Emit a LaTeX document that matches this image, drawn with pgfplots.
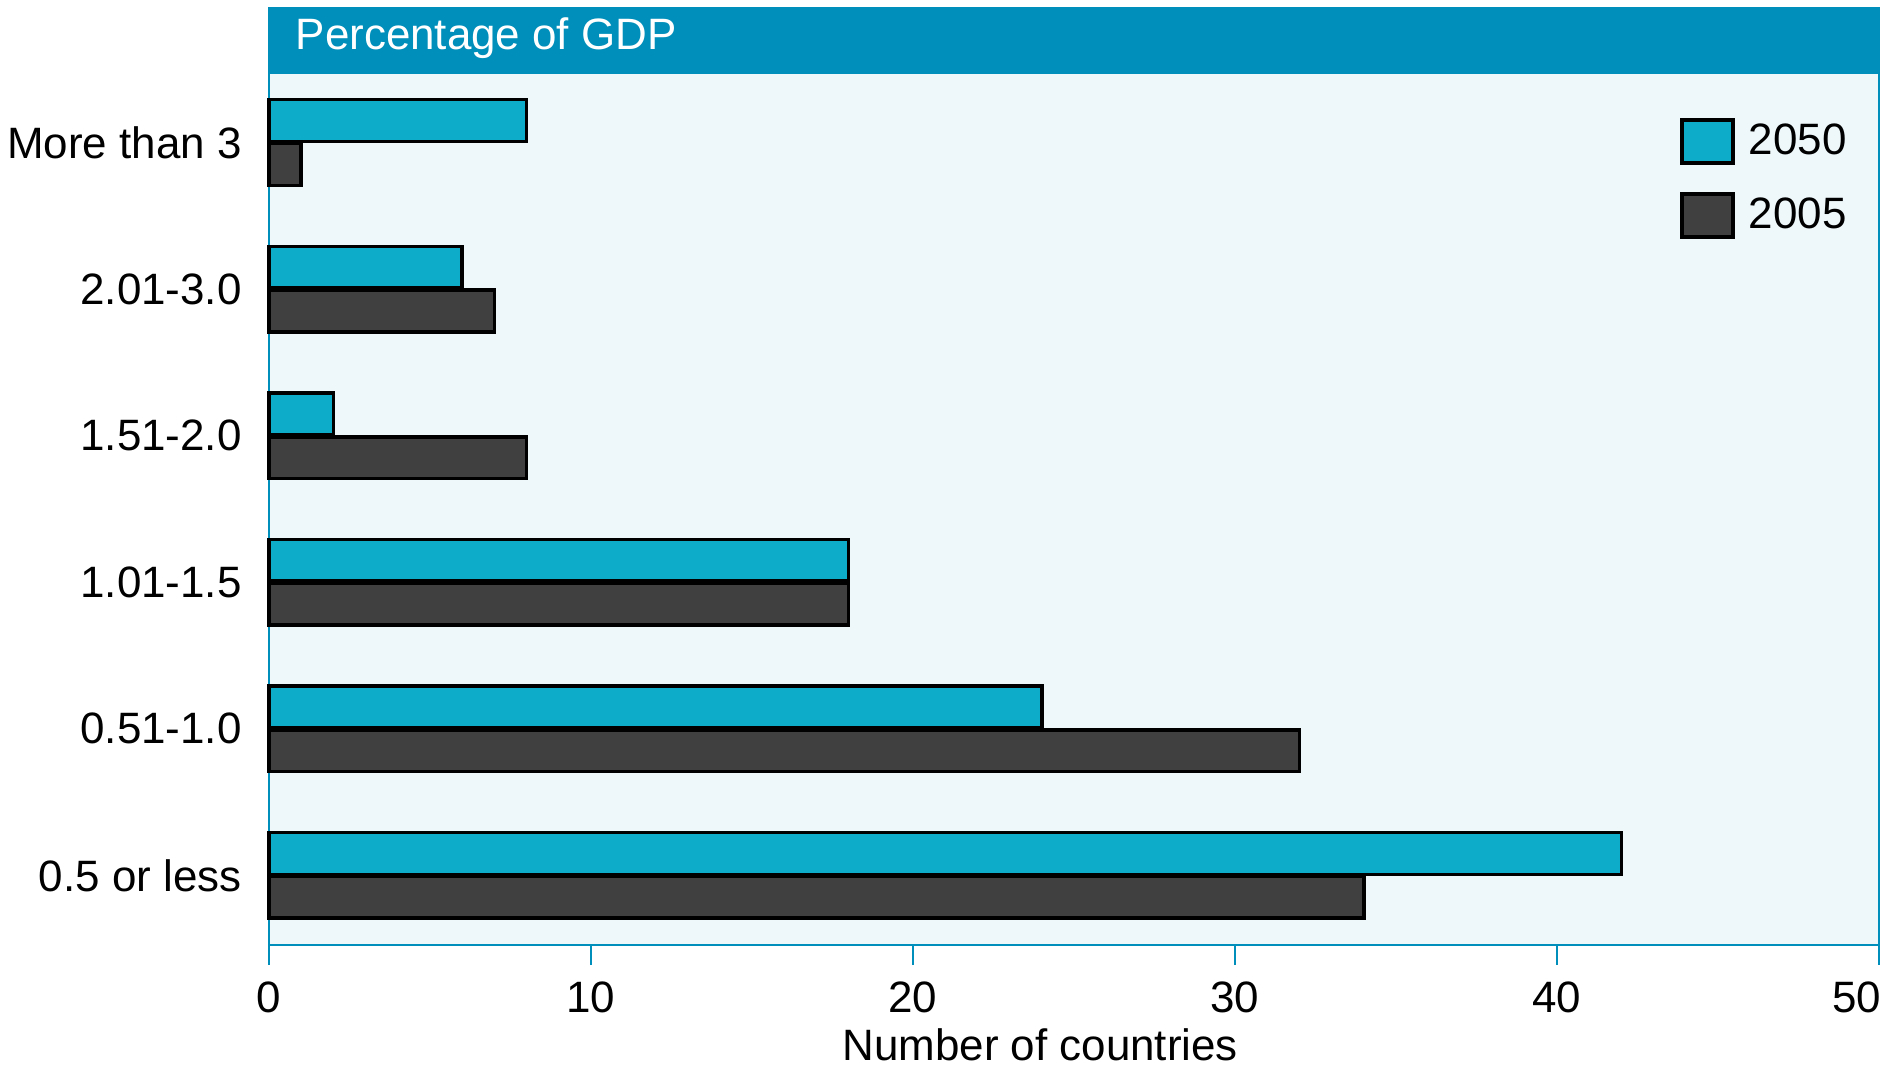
\documentclass[border=0pt]{standalone}
\usepackage{pgfplots}
\pgfplotsset{compat=1.18}
\usepackage{fontspec}
\setmainfont{Liberation Sans}
\definecolor{band}{HTML}{008FBA}
\definecolor{bgc}{HTML}{EEF8FB}
\definecolor{cyanbar}{HTML}{0DADC9}
\definecolor{darkbar}{HTML}{404040}
\newcommand{\chartfont}{\fontsize{12.5}{15}\selectfont}
\begin{document}
\begin{tikzpicture}
\clip (-26.9mm,-12mm) rectangle (161.6mm,94.5mm);
\begin{axis}[
  name=ax, at={(0,0)}, anchor=south west,
  scale only axis, width=161mm, height=87.2mm,
  xbar, bar width=0.285,
  xmin=0, xmax=50, ymin=-0.475, ymax=5.475,
  xtick={0,10,20,30,40,50},
  xticklabels={0,10,20,30,40,{50\hspace*{4.4mm}}},
  ytick={0,1,2,3,4,5},
  yticklabels={0.5 or less,0.51-1.0,1.01-1.5,1.51-2.0,2.01-3.0,More than 3},
  axis line style={band, line width=0.8pt},
  axis background/.style={fill=bgc},
  tick align=outside,
  xtick pos=left,
  xtick style={band, line width=0.8pt},
  major tick length=2mm,
  ytick style={draw=none},
  every tick label/.append style={font=\chartfont, text=black},
  /pgf/number format/assume math mode=true,
  xticklabel style={yshift=-0.4mm},
  yticklabel style={xshift=0.5mm},
  xlabel={Number of countries},
  label style={font=\chartfont},
  xlabel style={at={(axis description cs:0.479,0)}, anchor=base, yshift=-11.5mm},
  legend style={at={(0.8758,0.9495)}, anchor=north west, draw=none, fill=none,
    inner sep=0pt, font=\chartfont, row sep=2.68mm,
    nodes={inner sep=0pt},
    /tikz/every odd column/.append style={column sep=1.4mm}},
  clip=false,
]
\addplot[fill=cyanbar, draw=black, line width=1pt, bar shift=0.15,
  legend image code/.code={\draw[fill=cyanbar, draw=black, line width=1.2pt] (0mm,-2.15mm) rectangle (5.1mm,2.15mm);}]
  coordinates {(8,5) (6,4) (2,3) (18,2) (24,1) (42,0)};
\addlegendentry{2050}
\addplot[fill=darkbar, draw=black, line width=1pt, bar shift=-0.15,
  legend image code/.code={\draw[fill=darkbar, draw=black, line width=1.2pt] (0mm,-2.15mm) rectangle (5.1mm,2.15mm);}]
  coordinates {(1,5) (7,4) (8,3) (18,2) (32,1) (34,0)};
\addlegendentry{2005}
\fill[band] ([xshift=-0.4pt]rel axis cs:0,1) rectangle ([xshift=0.4pt,yshift=6.6mm]rel axis cs:1,1);
\node[anchor=base west, inner sep=0pt, text=white, font=\chartfont] at ([xshift=2.6mm,yshift=2.3mm]rel axis cs:0,1) {Percentage of GDP};
\end{axis}
\useasboundingbox (-26.9mm,-12mm) rectangle (161.6mm,94.5mm);
\end{tikzpicture}
\end{document}
